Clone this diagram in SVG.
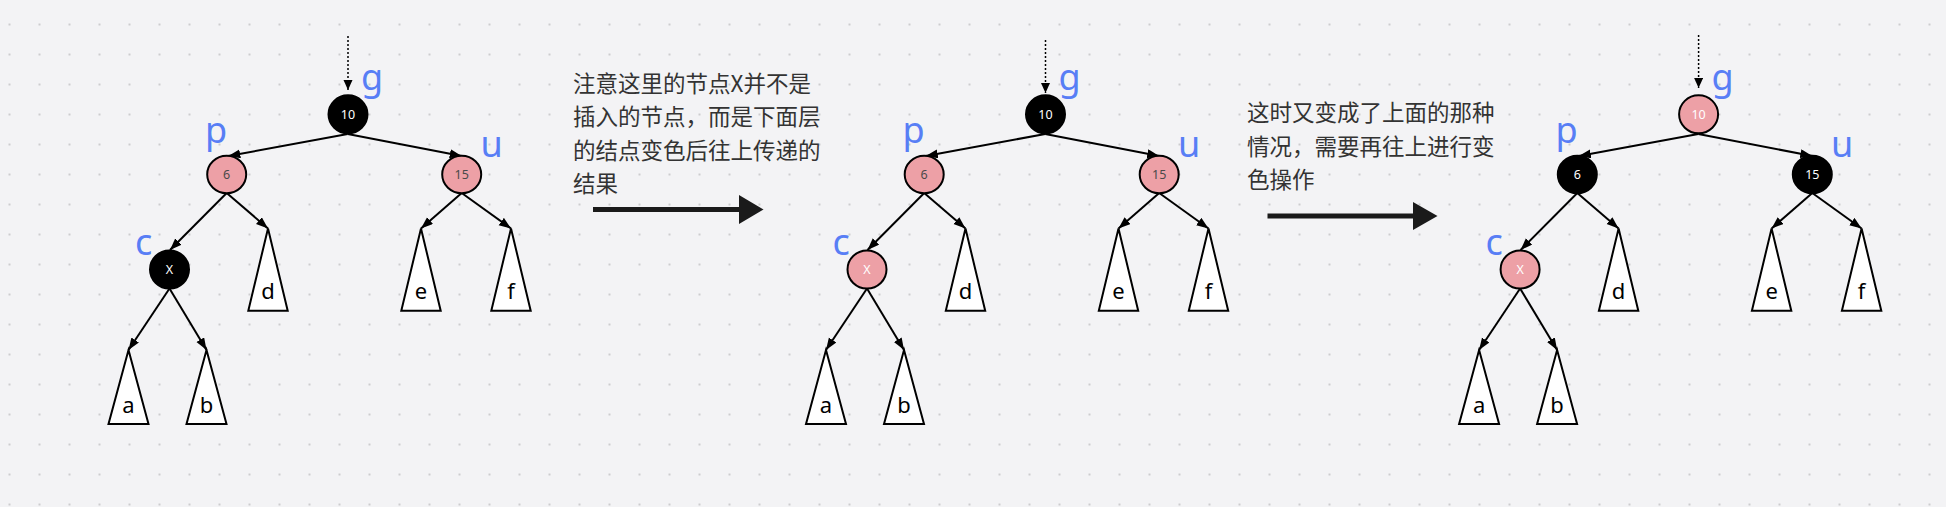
<svg xmlns="http://www.w3.org/2000/svg" width="1946" height="507" viewBox="0 0 1946 507">
<defs>
<pattern id="dots" x="0" y="0" width="30" height="30" patternUnits="userSpaceOnUse">
<rect x="8.5" y="23.5" width="2" height="2" fill="#cdcdcf"/>
</pattern>
<marker id="ah" markerUnits="userSpaceOnUse" markerWidth="13" markerHeight="10" refX="12" refY="4.5" orient="auto">
<path d="M0,0 L12,4.5 L0,9 Z" fill="#000"/>
</marker>
<marker id="ahd" markerUnits="userSpaceOnUse" markerWidth="11" markerHeight="11" refX="10" refY="4.5" orient="auto">
<path d="M0,0 L10,4.5 L0,9 Z" fill="#000"/>
</marker>
</defs>
<style>
.edge{stroke:#000;stroke-width:2;fill:none;marker-end:url(#ah)}
.dot{stroke:#000;stroke-width:1.5;stroke-dasharray:2 2;fill:none;marker-end:url(#ahd)}
.blk{fill:#000;stroke:#000;stroke-width:2}
.red{fill:#eda0a6;stroke:#000;stroke-width:2}
.nt{font-family:"Noto Sans","Open Sans",sans-serif;font-size:12.5px;text-anchor:middle}
.w{fill:#fff}
.g{fill:#4a4a4a}
.tri{fill:#fff;stroke:#000;stroke-width:2;stroke-linejoin:miter}
.tl{font-family:"Noto Sans","Open Sans",sans-serif;font-size:22px;fill:#000;text-anchor:middle}
.lbl{font-family:"Noto Sans","Open Sans",sans-serif;font-size:36px;fill:#587ef5}
.note{font-family:"Noto Sans CJK SC","Noto Sans",sans-serif;font-size:22.5px;fill:#333}
.big{stroke:#1a1a1a;stroke-width:5}
</style>
<rect width="1946" height="507" fill="#f3f3f5"/>
<rect width="1946" height="507" fill="url(#dots)"/>

<!-- Tree 1 -->
<g id="tree1">
<g id="t1-connectors">
<line class="dot" x1="348" y1="36" x2="348" y2="90"/>
<line class="edge" x1="347.7" y1="134" x2="228.3" y2="156"/>
<line class="edge" x1="347.7" y1="134" x2="461.7" y2="156"/>
<line class="edge" x1="226.7" y1="193" x2="170" y2="250"/>
<line class="edge" x1="226.7" y1="193" x2="268" y2="228.5"/>
<line class="edge" x1="461.7" y1="193" x2="421" y2="228.5"/>
<line class="edge" x1="461.7" y1="193" x2="511" y2="228.5"/>
<line class="edge" x1="169.5" y1="288.5" x2="128.5" y2="350"/>
<line class="edge" x1="169.5" y1="288.5" x2="206.5" y2="350"/>
</g>
<g id="t1-g"><ellipse class="blk" cx="348" cy="114.3" rx="19.5" ry="19"/><text class="nt w" x="348" y="118.5">10</text><text class="lbl" x="361" y="89.5">g</text></g>
<g id="t1-p"><ellipse class="red" cx="226.7" cy="174.5" rx="19.5" ry="18.7"/><text class="nt g" x="226.7" y="178.7">6</text><text class="lbl" x="205" y="142.5">p</text></g>
<g id="t1-u"><ellipse class="red" cx="461.7" cy="174.5" rx="19.5" ry="18.7"/><text class="nt g" x="461.7" y="178.7">15</text><text class="lbl" x="480.5" y="157.3">u</text></g>
<g id="t1-c"><ellipse class="blk" cx="169.5" cy="269.5" rx="19.5" ry="19"/><text class="nt w" x="169.5" y="273.7">X</text><text class="lbl" x="135" y="255">c</text></g>
<g id="t1-d"><polygon class="tri" points="268,228.5 287.7,310.7 248.3,310.7"/><text class="tl" x="268" y="298.5">d</text></g>
<g id="t1-e"><polygon class="tri" points="421,228.5 440.7,310.7 401.3,310.7"/><text class="tl" x="421" y="298.5">e</text></g>
<g id="t1-f"><polygon class="tri" points="511,228.5 530.7,310.7 491.3,310.7"/><text class="tl" x="511" y="298.5">f</text></g>
<g id="t1-a"><polygon class="tri" points="128.5,350 148.5,424 108.5,424"/><text class="tl" x="128.5" y="412.5">a</text></g>
<g id="t1-b"><polygon class="tri" points="206.5,350 226.5,424 186.5,424"/><text class="tl" x="206.5" y="412.5">b</text></g>
</g>

<!-- Tree 2 -->
<g id="tree2" transform="translate(697.5,0)">
<g id="t2-connectors">
<line class="dot" x1="348" y1="40" x2="348" y2="93"/>
<line class="edge" x1="347.7" y1="134" x2="228.3" y2="156"/>
<line class="edge" x1="347.7" y1="134" x2="461.7" y2="156"/>
<line class="edge" x1="226.7" y1="193" x2="170" y2="250"/>
<line class="edge" x1="226.7" y1="193" x2="268" y2="228.5"/>
<line class="edge" x1="461.7" y1="193" x2="421" y2="228.5"/>
<line class="edge" x1="461.7" y1="193" x2="511" y2="228.5"/>
<line class="edge" x1="169.5" y1="288.5" x2="128.5" y2="350"/>
<line class="edge" x1="169.5" y1="288.5" x2="206.5" y2="350"/>
</g>
<g id="t2-g"><ellipse class="blk" cx="348" cy="114.3" rx="19.5" ry="19"/><text class="nt w" x="348" y="118.5">10</text><text class="lbl" x="361" y="89.5">g</text></g>
<g id="t2-p"><ellipse class="red" cx="226.7" cy="174.5" rx="19.5" ry="18.7"/><text class="nt g" x="226.7" y="178.7">6</text><text class="lbl" x="205" y="142.5">p</text></g>
<g id="t2-u"><ellipse class="red" cx="461.7" cy="174.5" rx="19.5" ry="18.7"/><text class="nt g" x="461.7" y="178.7">15</text><text class="lbl" x="480.5" y="157.3">u</text></g>
<g id="t2-c"><ellipse class="red" cx="169.5" cy="269.5" rx="19.5" ry="19"/><text class="nt w" x="169.5" y="273.7">X</text><text class="lbl" x="135" y="255">c</text></g>
<g id="t2-d"><polygon class="tri" points="268,228.5 287.7,310.7 248.3,310.7"/><text class="tl" x="268" y="298.5">d</text></g>
<g id="t2-e"><polygon class="tri" points="421,228.5 440.7,310.7 401.3,310.7"/><text class="tl" x="421" y="298.5">e</text></g>
<g id="t2-f"><polygon class="tri" points="511,228.5 530.7,310.7 491.3,310.7"/><text class="tl" x="511" y="298.5">f</text></g>
<g id="t2-a"><polygon class="tri" points="128.5,350 148.5,424 108.5,424"/><text class="tl" x="128.5" y="412.5">a</text></g>
<g id="t2-b"><polygon class="tri" points="206.5,350 226.5,424 186.5,424"/><text class="tl" x="206.5" y="412.5">b</text></g>
</g>

<!-- Tree 3 -->
<g id="tree3" transform="translate(1350.6,0)">
<g id="t3-connectors">
<line class="dot" x1="348" y1="35" x2="348" y2="88"/>
<line class="edge" x1="347.7" y1="134" x2="228.3" y2="156"/>
<line class="edge" x1="347.7" y1="134" x2="461.7" y2="156"/>
<line class="edge" x1="226.7" y1="193" x2="170" y2="250"/>
<line class="edge" x1="226.7" y1="193" x2="268" y2="228.5"/>
<line class="edge" x1="461.7" y1="193" x2="421" y2="228.5"/>
<line class="edge" x1="461.7" y1="193" x2="511" y2="228.5"/>
<line class="edge" x1="169.5" y1="288.5" x2="128.5" y2="350"/>
<line class="edge" x1="169.5" y1="288.5" x2="206.5" y2="350"/>
</g>
<g id="t3-g"><ellipse class="red" cx="348" cy="114.3" rx="19.5" ry="19"/><text class="nt w" x="348" y="118.5">10</text><text class="lbl" x="361" y="89.5">g</text></g>
<g id="t3-p"><ellipse class="blk" cx="226.7" cy="174.5" rx="19.5" ry="18.7"/><text class="nt w" x="226.7" y="178.7">6</text><text class="lbl" x="205" y="142.5">p</text></g>
<g id="t3-u"><ellipse class="blk" cx="461.7" cy="174.5" rx="19.5" ry="18.7"/><text class="nt w" x="461.7" y="178.7">15</text><text class="lbl" x="480.5" y="157.3">u</text></g>
<g id="t3-c"><ellipse class="red" cx="169.5" cy="269.5" rx="19.5" ry="19"/><text class="nt w" x="169.5" y="273.7">X</text><text class="lbl" x="135" y="255">c</text></g>
<g id="t3-d"><polygon class="tri" points="268,228.5 287.7,310.7 248.3,310.7"/><text class="tl" x="268" y="298.5">d</text></g>
<g id="t3-e"><polygon class="tri" points="421,228.5 440.7,310.7 401.3,310.7"/><text class="tl" x="421" y="298.5">e</text></g>
<g id="t3-f"><polygon class="tri" points="511,228.5 530.7,310.7 491.3,310.7"/><text class="tl" x="511" y="298.5">f</text></g>
<g id="t3-a"><polygon class="tri" points="128.5,350 148.5,424 108.5,424"/><text class="tl" x="128.5" y="412.5">a</text></g>
<g id="t3-b"><polygon class="tri" points="206.5,350 226.5,424 186.5,424"/><text class="tl" x="206.5" y="412.5">b</text></g>
</g>

<!-- Notes and transition arrows -->
<g id="note1">
<text class="note" x="573" y="91.5">注意这里的节点X并不是</text>
<text class="note" x="573" y="125">插入的节点，而是下面层</text>
<text class="note" x="573" y="158.5">的结点变色后往上传递的</text>
<text class="note" x="573" y="192">结果</text>
</g>
<g id="arrow1">
<line class="big" x1="593" y1="209.5" x2="742" y2="209.5"/>
<polygon points="739,195 763.5,209.5 739,224" fill="#1a1a1a"/>
</g>
<g id="note2">
<text class="note" x="1247" y="121">这时又变成了上面的那种</text>
<text class="note" x="1247" y="154.5">情况，需要再往上进行变</text>
<text class="note" x="1247" y="188">色操作</text>
</g>
<g id="arrow2">
<line class="big" x1="1267.5" y1="216" x2="1416" y2="216"/>
<polygon points="1413,202 1437.5,216 1413,230" fill="#1a1a1a"/>
</g>
</svg>
